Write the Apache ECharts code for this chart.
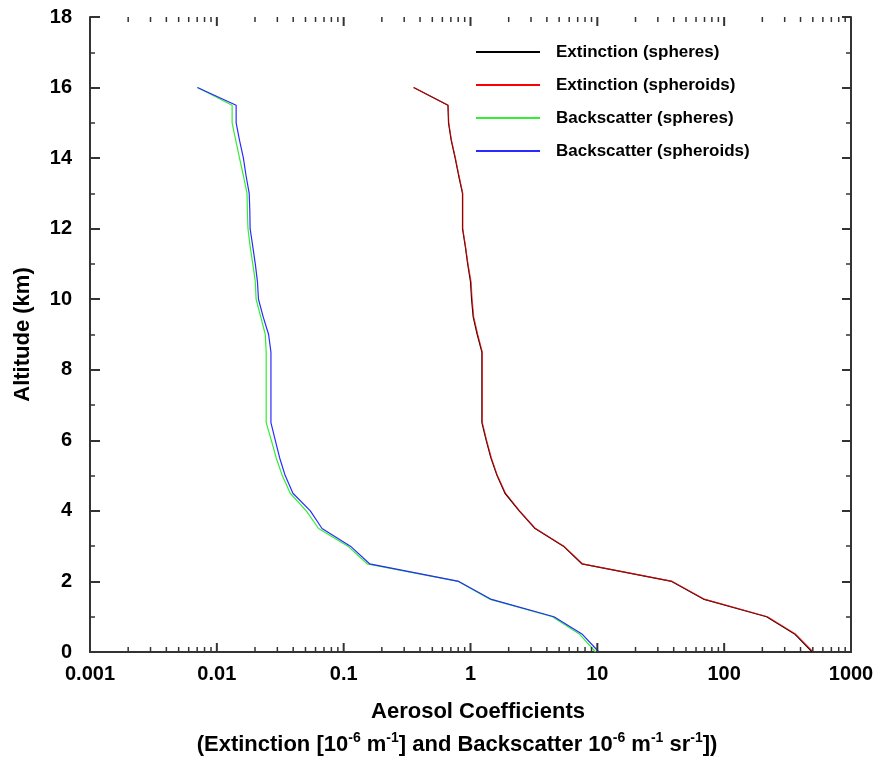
<!DOCTYPE html>
<html><head><meta charset="utf-8">
<script src="https://cdn.jsdelivr.net/npm/echarts@6/dist/echarts.min.js"></script>
<style>html,body{margin:0;padding:0;background:#fff}#c{width:882px;height:760px}</style>
</head><body><div id="c"></div>
<script>
const altitudes = [0,0.5,1,1.5,2,2.5,3,3.5,4,4.5,5,5.5,6,6.5,7,7.5,8,8.5,9,9.5,10,10.5,11,11.5,12,12.5,13,13.5,14,14.5,15,15.5,16];
const extSpheres = [495,362,216,68.5,38.6,7.55,5.40,3.23,2.42,1.87,1.62,1.45,1.33,1.23,1.23,1.23,1.23,1.23,1.13,1.05,1.02,1.00,0.95,0.91,0.865,0.865,0.865,0.807,0.757,0.705,0.671,0.664,0.356];
const extSpheroids = [504,368,220,69.5,39.1,7.62,5.45,3.26,2.44,1.89,1.63,1.46,1.34,1.24,1.24,1.24,1.24,1.24,1.14,1.06,1.03,1.01,0.955,0.913,0.869,0.869,0.869,0.811,0.761,0.708,0.674,0.667,0.357];
const bsSpheres = [9.70,7.26,4.42,1.41,0.80,0.153,0.108,0.0634,0.0507,0.0379,0.0328,0.0294,0.0269,0.0245,0.0245,0.0245,0.0245,0.0245,0.0241,0.0222,0.0204,0.0201,0.0192,0.0183,0.0176,0.0174,0.0173,0.0162,0.0151,0.0141,0.0132,0.0132,0.00703];
const bsSpheroids = [10.3,7.62,4.55,1.44,0.809,0.160,0.113,0.0675,0.0546,0.0398,0.0346,0.0313,0.0289,0.0267,0.0267,0.0267,0.0267,0.0267,0.0256,0.0232,0.0213,0.0209,0.0201,0.0192,0.0183,0.0182,0.0180,0.0170,0.0162,0.0151,0.0142,0.0142,0.00703];
const seriesNames = ['Extinction (spheres)','Extinction (spheroids)','Backscatter (spheres)','Backscatter (spheroids)'];
const seriesColors = ['#000000','#ff0000','#33ee33','#2a2aff'];
const xTickLabels = ['0.001','0.01','0.1','1','10','100','1000'];
const decades = [0.001,0.01,0.1,1,10,100,1000];
const minorMultipliers = [2,3,4,5,6,7,8,9];

const FONT = 'Arial, "Liberation Sans", sans-serif';
function pairs(vals){ return vals.map((v,i)=>[v, altitudes[i]]); }
// x-axis tick marks for the log axis: [value, 0, tickLength]
const xTickMarks = [];
decades.forEach(d => xTickMarks.push([d, 0, 9]));
decades.slice(0, -1).forEach(d => minorMultipliers.forEach(m => xTickMarks.push([+(d*m).toPrecision(3), 0, 5])));

const axisLineStyle = {color:'#333', width:2};
const chart = echarts.init(document.getElementById('c'));
const seriesData = [extSpheres, extSpheroids, bsSpheres, bsSpheroids];
const lineSeries = seriesData.map((vals, i) => ({
  name: seriesNames[i], type:'line', data: pairs(vals), xAxisIndex:0, yAxisIndex:0,
  symbol:'none', smooth:false,
  itemStyle:{color: seriesColors[i]},
  lineStyle:{color: seriesColors[i], width: 1.2, opacity: i===1 ? 0.7 : 1},
  z: 3 + i
}));
chart.setOption({
  animation:false,
  grid:{left:90, right:31, top:17, bottom:108},
  legend:{
    orient:'vertical', left:471, top:37, icon:'rect', itemWidth:64, itemHeight:2, itemGap:13,
    data: seriesNames.map((n,i)=>({name:n, itemStyle:{color:seriesColors[i], opacity:1}})),
    textStyle:{fontSize:17, fontWeight:'bold', fontFamily:FONT, color:'#000', padding:[0,0,0,11], lineHeight:20}
  },
  xAxis:[
    {type:'log', logBase:10, min:0.001, max:1000, position:'bottom',
     axisLine:{show:true, lineStyle:axisLineStyle},
     axisTick:{show:false},
     axisLabel:{show:true, margin:12, fontSize:20, fontWeight:'bold', fontFamily:FONT, color:'#000',
       formatter: v => xTickLabels[Math.round(Math.log10(v)) + 3]},
     splitLine:{show:false}},
    {type:'log', logBase:10, min:0.001, max:1000, position:'top',
     axisLine:{show:true, lineStyle:axisLineStyle},
     axisTick:{show:false},
     axisLabel:{show:false}, splitLine:{show:false}}
  ],
  yAxis:[
    {type:'value', min:0, max:18, interval:2, position:'left',
     name:'Altitude (km)', nameLocation:'middle', nameGap:56, nameRotate:90,
     nameTextStyle:{fontSize:22, fontWeight:'bold', fontFamily:FONT, color:'#000'},
     axisLine:{show:true, lineStyle:axisLineStyle},
     axisTick:{show:true, inside:true, length:10, lineStyle:{color:'#333', width:2}},
     minorTick:{show:true, splitNumber:2, length:5, lineStyle:{color:'#333', width:1.5}},
     axisLabel:{margin:18, fontSize:20, fontWeight:'bold', fontFamily:FONT, color:'#000'},
     splitLine:{show:false}, minorSplitLine:{show:false}},
    {type:'value', min:0, max:18, interval:2, position:'right',
     axisLine:{show:true, lineStyle:axisLineStyle},
     axisTick:{show:true, inside:true, length:9, lineStyle:{color:'#333', width:2}},
     minorTick:{show:true, splitNumber:2, length:5, lineStyle:{color:'#333', width:1.5}},
     axisLabel:{show:false}, splitLine:{show:false}, minorSplitLine:{show:false}}
  ],
  graphic:[
    {type:'text', x:478, y:712, style:{text:'Aerosol Coefficients', font:'bold 22px ' + FONT, fill:'#000', align:'center', verticalAlign:'middle'}},
    {type:'text', x:457, y:745, style:{
      text:'{b|(Extinction [10}{s|-6}{b| m}{s|-1}{b|] and Backscatter 10}{s|-6}{b| m}{s|-1}{b| sr}{s|-1}{b|])}',
      align:'center', verticalAlign:'middle', fill:'#000',
      rich:{
        b:{fontSize:22, fontWeight:'bold', fontFamily:FONT, fill:'#000', lineHeight:30, verticalAlign:'middle'},
        s:{fontSize:14, fontWeight:'bold', fontFamily:FONT, fill:'#000', lineHeight:30, verticalAlign:'top', padding:[1,0,0,0]}
      }}}
  ],
  series: lineSeries.concat([{
    type:'custom', xAxisIndex:0, yAxisIndex:0, data:xTickMarks, silent:true, clip:false, z:10,
    encode:{x:0, y:1},
    renderItem:(params, api) => {
      const x = api.coord([api.value(0), 0])[0];
      const len = api.value(2);
      const cs = params.coordSys;
      const style = {stroke:'#333', lineWidth: len > 6 ? 2 : 1.5};
      return {type:'group', children:[
        {type:'line', shape:{x1:x, y1:cs.y+cs.height, x2:x, y2:cs.y+cs.height-len}, style},
        {type:'line', shape:{x1:x, y1:cs.y, x2:x, y2:cs.y+len}, style}
      ]};
    }
  }])
});
</script></body></html>
